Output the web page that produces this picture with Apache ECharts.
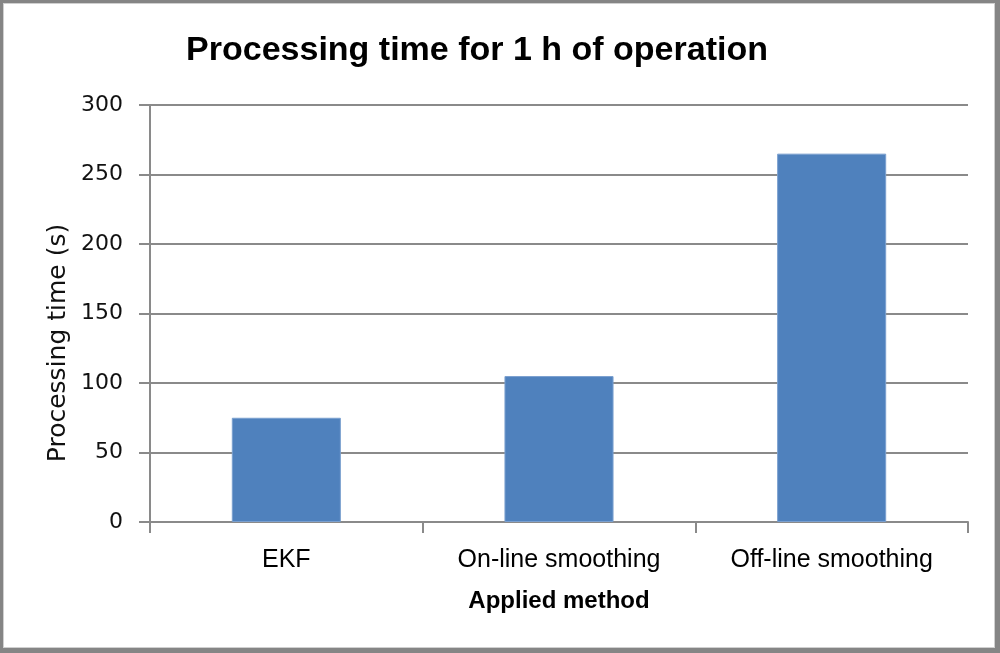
<!DOCTYPE html>
<html>
<head>
<meta charset="utf-8">
<script src="https://cdn.jsdelivr.net/npm/echarts@6/dist/echarts.min.js"></script>
<style>
  html, body { margin: 0; padding: 0; background: #fff; }
  #chart { position: absolute; left: 0; top: 0; width: 1000px; height: 653px; }
  #frame { position: absolute; left: 0; top: 0; width: 1000px; height: 653px; box-sizing: border-box;
           border-style: solid; border-color: #858585; border-width: 3px 5px 5px 3px; pointer-events: none; }
  #frame2 { position: absolute; left: 3px; top: 3px; width: 992px; height: 645px; box-sizing: border-box;
           border: 1px solid #d0d0d0; pointer-events: none; }
</style>
</head>
<body>
<div id="chart"></div>
<div id="frame"></div>
<div id="frame2"></div>
<script>
const titleText = "Processing time for 1 h of operation";
const categories = ["EKF", "On-line smoothing", "Off-line smoothing"];
const processingTime = [75, 105, 265];
const yMin = 0, yMax = 300, yStep = 50;
const xAxisTitle = "Applied method";
const yAxisTitle = "Processing time (s)";

const chart = echarts.init(document.getElementById('chart'), null, { renderer: 'canvas' });
chart.setOption({
  animation: false,
  backgroundColor: '#ffffff',
  title: {
    text: titleText,
    left: 472, top: 29, textAlign: 'center',
    textStyle: { fontFamily: 'Liberation Sans', fontWeight: 'bold', fontSize: 34, color: '#000' }
  },
  grid: { left: 150, right: 32, top: 105, bottom: 131, containLabel: false },
  xAxis: {
    type: 'category',
    data: categories,
    name: xAxisTitle,
    nameLocation: 'middle',
    nameGap: 67,
    nameTextStyle: { fontFamily: 'Liberation Sans', fontWeight: 'bold', fontSize: 24, color: '#000' },
    axisLine: { lineStyle: { color: '#8a8a8a', width: 2 } },
    axisTick: { show: true, alignWithLabel: false, length: 11, lineStyle: { color: '#8a8a8a', width: 2 } },
    axisLabel: { margin: 26, fontFamily: 'Liberation Sans', fontSize: 25, color: '#000' },
    splitLine: { show: false }
  },
  yAxis: {
    type: 'value',
    min: yMin, max: yMax, interval: yStep,
    axisLine: { show: true, lineStyle: { color: '#8a8a8a', width: 2 } },
    axisTick: { show: true, length: 11, lineStyle: { color: '#8a8a8a', width: 2 } },
    axisLabel: { margin: 27, fontFamily: 'DejaVu Sans', fontSize: 22, color: '#111' },
    splitLine: { show: true, lineStyle: { color: '#8a8a8a', width: 2 } }
  },
  graphic: [{
    type: 'text',
    x: 58, y: 343,
    rotation: Math.PI / 2,
    style: {
      text: yAxisTitle,
      x: 0, y: 0,
      align: 'center', verticalAlign: 'middle',
      font: '25px "DejaVu Sans"',
      fill: '#111'
    }
  }],
  series: [{
    type: 'bar',
    data: processingTime,
    barWidth: '40%',
    itemStyle: { color: '#4f81bd', borderColor: '#7ba0cf', borderWidth: 1 }
  }]
});
</script>
</body>
</html>
